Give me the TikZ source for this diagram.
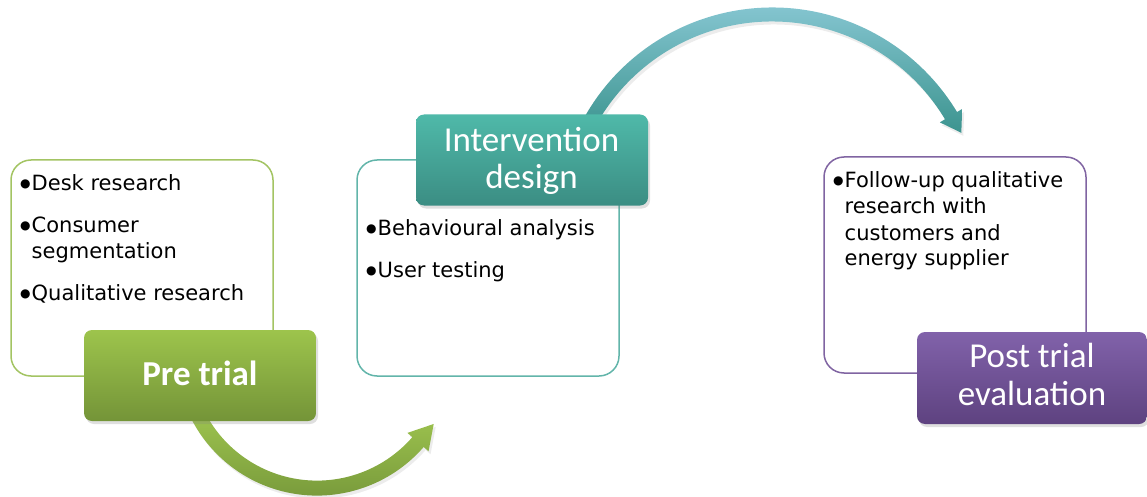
\documentclass[tikz,border=0pt]{standalone}
\usepackage{fontspec}
\usepackage{graphicx}
\setmainfont{DejaVu Sans}
\newfontfamily\headfont{Carlito}
\usetikzlibrary{calc,shadows}
\definecolor{greenline}{HTML}{A3C463}
\definecolor{tealline}{HTML}{62B5AA}
\definecolor{purpleline}{HTML}{8064A2}
\definecolor{gtop}{HTML}{9DC44C}
\definecolor{gbot}{HTML}{749438}
\definecolor{ttop}{HTML}{4FB9A9}
\definecolor{tbot}{HTML}{3B8D83}
\definecolor{ptop}{HTML}{8162AA}
\definecolor{pbot}{HTML}{5E4280}
\definecolor{gatop}{HTML}{A0C650}
\definecolor{gabot}{HTML}{789A3B}
\definecolor{tatop}{HTML}{95D0DF}
\definecolor{tamid}{HTML}{52AFC7}
\definecolor{tabot}{HTML}{3C948F}
\newcommand\mybul{\makebox[12.5pt][c]{\fontsize{12}{12}\selectfont\raisebox{3pt}{●}}}
\begin{document}
\begin{tikzpicture}[x=1pt,y=1pt,
  outline/.style={draw=#1, line width=1.5pt, rounded corners=20pt, fill=white,
    minimum width=262pt, minimum height=216pt, inner sep=0pt},
  stage/.style={rounded corners=8pt, inner sep=0pt, minimum width=232pt, minimum height=91pt,
    drop shadow={shadow xshift=2pt, shadow yshift=-3pt, opacity=0.25}},
  arrowshadow/.style={drop shadow={shadow xshift=2pt, shadow yshift=-3pt, opacity=0.15}},
  item/.style={anchor=base west, inner sep=0pt, font=\fontsize{21}{26}\selectfont},
  head/.style={anchor=base, inner sep=0pt, text=white, font=\headfont\fontsize{35}{37}\selectfont}]
\useasboundingbox (0,0) rectangle (1147,-497);

% outline boxes
\node[outline=greenline] (prebox) at (142,-268) {};
\node[outline=tealline] (intbox) at (488,-268) {};
\node[outline=purpleline] (postbox) at (955,-265) {};

% green arrow
\coordinate (gc) at (317,-354.3);
\shade[arrowshadow, top color=gatop, bottom color=gabot]
  ($(gc)+(205:141.3pt)$) arc[start angle=205, end angle=319, radius=141.3pt]
  -- ($(gc)+(319:147.8pt)$)
  -- ($(gc)+(319:133.8pt)+(49:24pt)$)
  -- ($(gc)+(319:119.8pt)$)
  -- ($(gc)+(319:126.3pt)$)
  arc[start angle=319, end angle=205, radius=126.3pt] -- cycle;

% teal arrow
\coordinate (tc) at (772.2,-223.1);
\shade[arrowshadow, top color=tatop, middle color=tamid, bottom color=tabot]
  ($(tc)+(150:215.6pt)$) arc[start angle=150, end angle=31, radius=215.6pt]
  -- ($(tc)+(31:221.6pt)$)
  -- ($(tc)+(31:208.6pt)+(-59:20pt)$)
  -- ($(tc)+(31:195.6pt)$)
  -- ($(tc)+(31:201.6pt)$)
  arc[start angle=31, end angle=150, radius=201.6pt] -- cycle;

% stage boxes
\node[stage, top color=gtop, bottom color=gbot] (pre) at (200,-375.5) {};
\node[stage, top color=ttop, bottom color=tbot] (int) at (532,-160) {};
\node[stage, minimum width=230pt, minimum height=92pt, top color=ptop, bottom color=pbot] (post) at (1032,-378) {};

% headings
\node[head, font=\headfont\bfseries\fontsize{35}{37}\selectfont] (preh) at (200,-385) {Pre trial};
\node[head] (inth1) at (531.5,-151.7) {Intervention};
\node[head] (inth2) at (531.5,-188) {design};
\node[head] (posth1) at (1032,-367) {Post trial};
\node[head] (posth2) at (1032,-405) {evaluation};

% bullet texts
\node[item] (t11) at (19,-190) {\mybul Desk research};
\node[item] (t12) at (19,-232) {\mybul Consumer};
\node[item] (t13) at (31.5,-258) {segmentation};
\node[item] (t14) at (19,-300) {\mybul Qualitative research};
\node[item] (t21) at (365,-235) {\mybul Behavioural analysis};
\node[item] (t22) at (365,-277) {\mybul User testing};
\node[item] (t31) at (832,-187) {\mybul Follow-up qualitative};
\node[item] (t32) at (844.5,-213) {research with};
\node[item] (t33) at (844.5,-240) {customers and};
\node[item] (t34) at (844.5,-265) {energy supplier};
\end{tikzpicture}
\end{document}
